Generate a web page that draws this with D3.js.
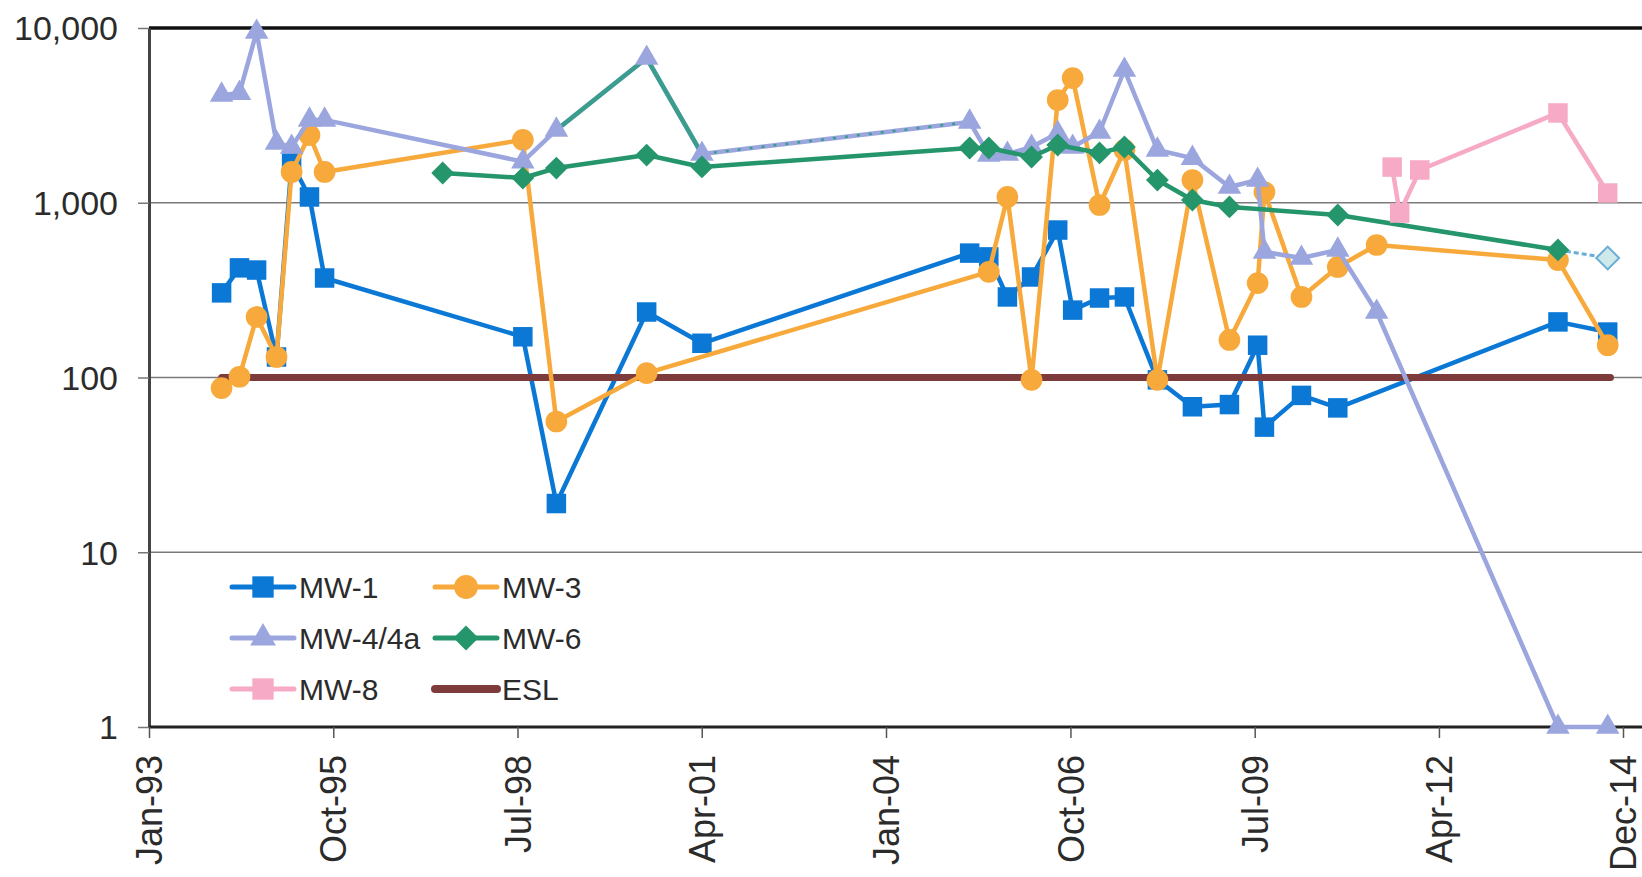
<!DOCTYPE html>
<html lang="en">
  <head>
    <meta charset="utf-8" />
    <title>Monitoring wells</title>
    <style>
      body { margin: 0; background: #fff; }
      svg { display: block; font-family: "Liberation Sans", Arial, sans-serif; }
    </style>
  </head>
  <body>
    <div id="chart"></div>

    <script src="https://d3js.org/d3.v7.min.js"></script>
    <script>
      // x ticks every 1000 days, starting 31 Jan 1993
      const xTickDates = ["1993-01-31", "1995-10-28", "1998-07-24", "2001-04-19", "2004-01-14",
        "2006-10-11", "2009-07-07", "2012-04-02", "2014-12-27"];
      const yTickValues = [1, 10, 100, 1000, 10000];

      const mw1Dates = ["1994-03-01", "1994-06-06", "1994-09-07", "1994-12-24", "1995-03-16", "1995-06-21",
        "1995-09-11", "1998-08-22", "1999-02-20", "2000-06-24", "2001-04-20", "2005-04-12", "2005-07-25",
        "2005-11-03", "2006-03-14", "2006-08-03", "2006-10-23", "2007-03-18", "2007-07-31", "2008-01-26",
        "2008-08-03", "2009-02-20", "2009-07-23", "2009-08-29", "2010-03-18", "2010-10-01", "2014-01-08",
        "2014-10-05"];
      const mw1Values = [305, 424, 412, 131, 1690, 1079, 371, 171, 19, 237, 157, 515, 490, 289, 376, 698, 243,
        285, 289, 97, 68, 70, 153, 52, 79, 67, 208, 182];

      const mw3Dates = ["1994-03-01", "1994-06-06", "1994-09-07", "1994-12-24", "1995-03-16", "1995-06-21",
        "1995-09-11", "1998-08-22", "1999-02-20", "2000-06-24", "2005-07-25", "2005-11-03", "2006-03-14",
        "2006-08-03", "2006-10-23", "2007-03-18", "2007-07-31", "2008-01-26", "2008-08-03", "2009-02-20",
        "2009-07-23", "2009-08-29", "2010-03-18", "2010-10-01", "2011-04-30", "2014-01-08", "2014-10-05"];
      const mw3Values = [87, 101, 222, 131, 1500, 2440, 1500, 2290, 56, 106, 402, 1079, 97, 3870, 5170, 971,
        2005, 97, 1349, 164, 347, 1152, 289, 429, 573, 470, 153];

      const mw4Dates = ["1994-03-01", "1994-06-06", "1994-09-07", "1994-12-24", "1995-03-16", "1995-06-21",
        "1995-09-11", "1998-08-22", "1999-02-20", "2000-06-24", "2001-04-20", "2005-04-12", "2005-07-25",
        "2005-11-03", "2006-03-14", "2006-08-03", "2006-10-23", "2007-03-18", "2007-07-31", "2008-01-26",
        "2008-08-03", "2009-02-20", "2009-07-23", "2009-08-29", "2010-03-18", "2010-10-01", "2011-04-30",
        "2014-01-08", "2014-10-05"];
      const mw4Values = [4140, 4240, 9490, 2200, 2085, 2980, 2980, 1720, 2610, 6730, 1900, 2900, 1880, 1900,
        2085, 2500, 2085, 2540, 5750, 2005, 1800, 1230, 1350, 523, 483, 537, 237, 1, 1];

      const mw6Dates = ["1997-06-13", "1998-08-22", "1999-02-20", "2000-06-24", "2001-04-20", "2005-04-12",
        "2005-07-25", "2006-03-14", "2006-08-03", "2007-03-18", "2007-07-31", "2008-01-26", "2008-08-03",
        "2009-02-20", "2010-10-01", "2014-01-08", "2014-10-05"];
      const mw6Values = [1480, 1386, 1580, 1875, 1603, 2057, 2057, 1827, 2140, 1928, 2085, 1349, 1037, 946,
        851, 537, 483];

      const mw8Dates = ["2011-07-23", "2011-09-02", "2011-12-20", "2014-01-08", "2014-10-05"];
      const mw8Values = [1600, 873, 1540, 3265, 1137];

      const eslDates = ["1994-03-01", "2014-10-20"];
      const eslValues = [100, 100];

      const parseDate = d3.utcParse("%Y-%m-%d");
      const zip = (dates, values) => dates.map((d, i) => ({ date: parseDate(d), value: values[i] }));

      const series = [
        { name: "MW-1", color: "#0b78d6", marker: "square", data: zip(mw1Dates, mw1Values) },
        { name: "MW-3", color: "#f7a93b", marker: "circle", data: zip(mw3Dates, mw3Values) },
        { name: "MW-4/4a", color: "#9ba6df", marker: "triangle", data: zip(mw4Dates, mw4Values) },
        { name: "MW-6", color: "#25956c", marker: "diamond", data: zip(mw6Dates, mw6Values) },
        { name: "MW-8", color: "#f6aac6", marker: "square", data: zip(mw8Dates, mw8Values) },
        { name: "ESL", color: "#7d3b3b", marker: null, data: zip(eslDates, eslValues) }
      ];
      // draw order: ESL sits above MW-1 but below the others
      const drawOrder = ["MW-1", "ESL", "MW-3", "MW-4/4a", "MW-6", "MW-8"];

      const width = 1642, height = 877;
      const plotLeft = 149, plotRight = 1623, plotTop = 28, plotBottom = 727, gridRight = 1642;

      const xScale = d3.scaleUtc()
        .domain([parseDate(xTickDates[0]), parseDate(xTickDates[xTickDates.length - 1])])
        .range([plotLeft, plotRight]);
      const yScale = d3.scaleLog().domain([1, 10000]).range([plotBottom, plotTop]);

      const svg = d3.select("#chart").append("svg")
        .attr("width", width)
        .attr("height", height);

      // gridlines
      svg.append("g")
        .selectAll("line")
        .data([10, 100, 1000])
        .join("line")
        .attr("x1", plotLeft).attr("x2", gridRight)
        .attr("y1", d => yScale(d)).attr("y2", d => yScale(d))
        .attr("stroke", "#7a7a7a")
        .attr("stroke-width", 1.5);

      // top border
      svg.append("line")
        .attr("x1", plotLeft).attr("x2", gridRight)
        .attr("y1", yScale(10000)).attr("y2", yScale(10000))
        .attr("stroke", "#111").attr("stroke-width", 3.5);

      const yAxis = svg.append("g")
        .attr("transform", `translate(${plotLeft},0)`)
        .call(d3.axisLeft(yScale).tickValues(yTickValues).tickFormat(d3.format(",")).tickSize(11).tickSizeOuter(0));
      yAxis.select(".domain").attr("stroke", "#444").attr("stroke-width", 3);
      yAxis.selectAll(".tick line").attr("stroke", "#777").attr("stroke-width", 1.5);
      yAxis.selectAll(".tick text")
        .attr("x", -31)
        .attr("dy", "0.35em")
        .attr("font-size", 34)
        .attr("font-family", "'Liberation Sans', Arial, sans-serif")
        .attr("fill", "#2b2b2b");

      const xAxis = svg.append("g")
        .attr("transform", `translate(0,${plotBottom})`)
        .call(d3.axisBottom(xScale).tickValues(xTickDates.map(parseDate))
          .tickFormat(d3.utcFormat("%b-%y")).tickSize(11).tickSizeOuter(0));
      xAxis.select(".domain").attr("stroke", "#222").attr("stroke-width", 3)
        .attr("d", `M${plotLeft},0H${gridRight}`);
      xAxis.selectAll(".tick line").attr("stroke", "#555").attr("stroke-width", 1.5);
      xAxis.selectAll(".tick text")
        .attr("font-size", 36)
        .attr("font-family", "'Liberation Sans', Arial, sans-serif")
        .attr("fill", "#2b2b2b")
        .attr("text-anchor", "end")
        .attr("y", 0)
        .attr("dy", "0.35em")
        .attr("transform", "translate(0,28) rotate(-90)");

      const symbolPath = (marker, scale = 1) => {
        if (marker === "square") return d3.symbol(d3.symbolSquare, 380 * scale)();
        if (marker === "circle") return d3.symbol(d3.symbolCircle, 370 * scale)();
        if (marker === "triangle") return d3.symbol(d3.symbolTriangle, 240 * scale)();
        if (marker === "diamond") return d3.symbol(d3.symbolSquare, 260 * scale)();
        return null;
      };

      const line = d3.line().x(d => xScale(d.date)).y(d => yScale(d.value));

      drawOrder.forEach(name => {
        const s = series.find(e => e.name === name);
        const g = svg.append("g");
        g.append("path")
          .attr("d", line(s.data))
          .attr("fill", "none")
          .attr("stroke", s.color)
          .attr("stroke-width", s.marker ? 4.5 : 7)
          .attr("stroke-linejoin", "round")
          .attr("stroke-linecap", "round");

        if (name === "MW-4/4a") {
          // the scanned plot shows these stretches in teal
          g.append("path")
            .attr("d", line(s.data.slice(8, 11)))
            .attr("fill", "none").attr("stroke", "#3a9d8d").attr("stroke-width", 4.5);
          g.append("path")
            .attr("d", line(s.data.slice(10, 12)))
            .attr("fill", "none").attr("stroke", "#3a9d8d").attr("stroke-width", 2.5)
            .attr("stroke-dasharray", "3 9");
        }
        if (name === "MW-6") {
          g.append("path")
            .attr("d", line(s.data.slice(-2)))
            .attr("fill", "none").attr("stroke", "#fff").attr("stroke-width", 5.5);
          g.append("path")
            .attr("d", line(s.data.slice(-2)))
            .attr("fill", "none").attr("stroke", "#6aaed6").attr("stroke-width", 3)
            .attr("stroke-dasharray", "5 3");
        }

        if (s.marker) {
          g.selectAll("path.marker")
            .data(s.data)
            .join("path")
            .attr("class", "marker")
            .attr("d", symbolPath(s.marker))
            .attr("fill", (d, i) => (name === "MW-6" && i === s.data.length - 1) ? "#cfe8ea" : s.color)
            .attr("stroke", (d, i) => (name === "MW-6" && i === s.data.length - 1) ? "#6aaed6" : "none")
            .attr("stroke-width", 2)
            .attr("transform", d => `translate(${xScale(d.date)},${yScale(d.value)})` +
              (s.marker === "diamond" ? " rotate(45)" : ""));
        }
      });

      // legend, two columns, no frame
      const legendCols = [232, 435];
      const legendRows = [587, 638, 689];
      const legend = svg.append("g");
      series.forEach((s, i) => {
        const x0 = legendCols[i % 2];
        const y0 = legendRows[Math.floor(i / 2)];
        const item = legend.append("g").attr("transform", `translate(${x0},${y0})`);
        item.append("line")
          .attr("x1", 0).attr("x2", 62)
          .attr("stroke", s.color)
          .attr("stroke-width", s.marker ? 5 : 8)
          .attr("stroke-linecap", "round");
        if (s.marker) {
          item.append("path")
            .attr("d", symbolPath(s.marker, 1.2))
            .attr("fill", s.color)
            .attr("transform", `translate(31,0)` + (s.marker === "diamond" ? " rotate(45)" : ""));
        }
        item.append("text")
          .attr("x", 67)
          .attr("dy", "0.36em")
          .attr("font-size", 30)
          .attr("fill", "#2b2b2b")
          .text(s.name);
      });
    </script>
  </body>
</html>
